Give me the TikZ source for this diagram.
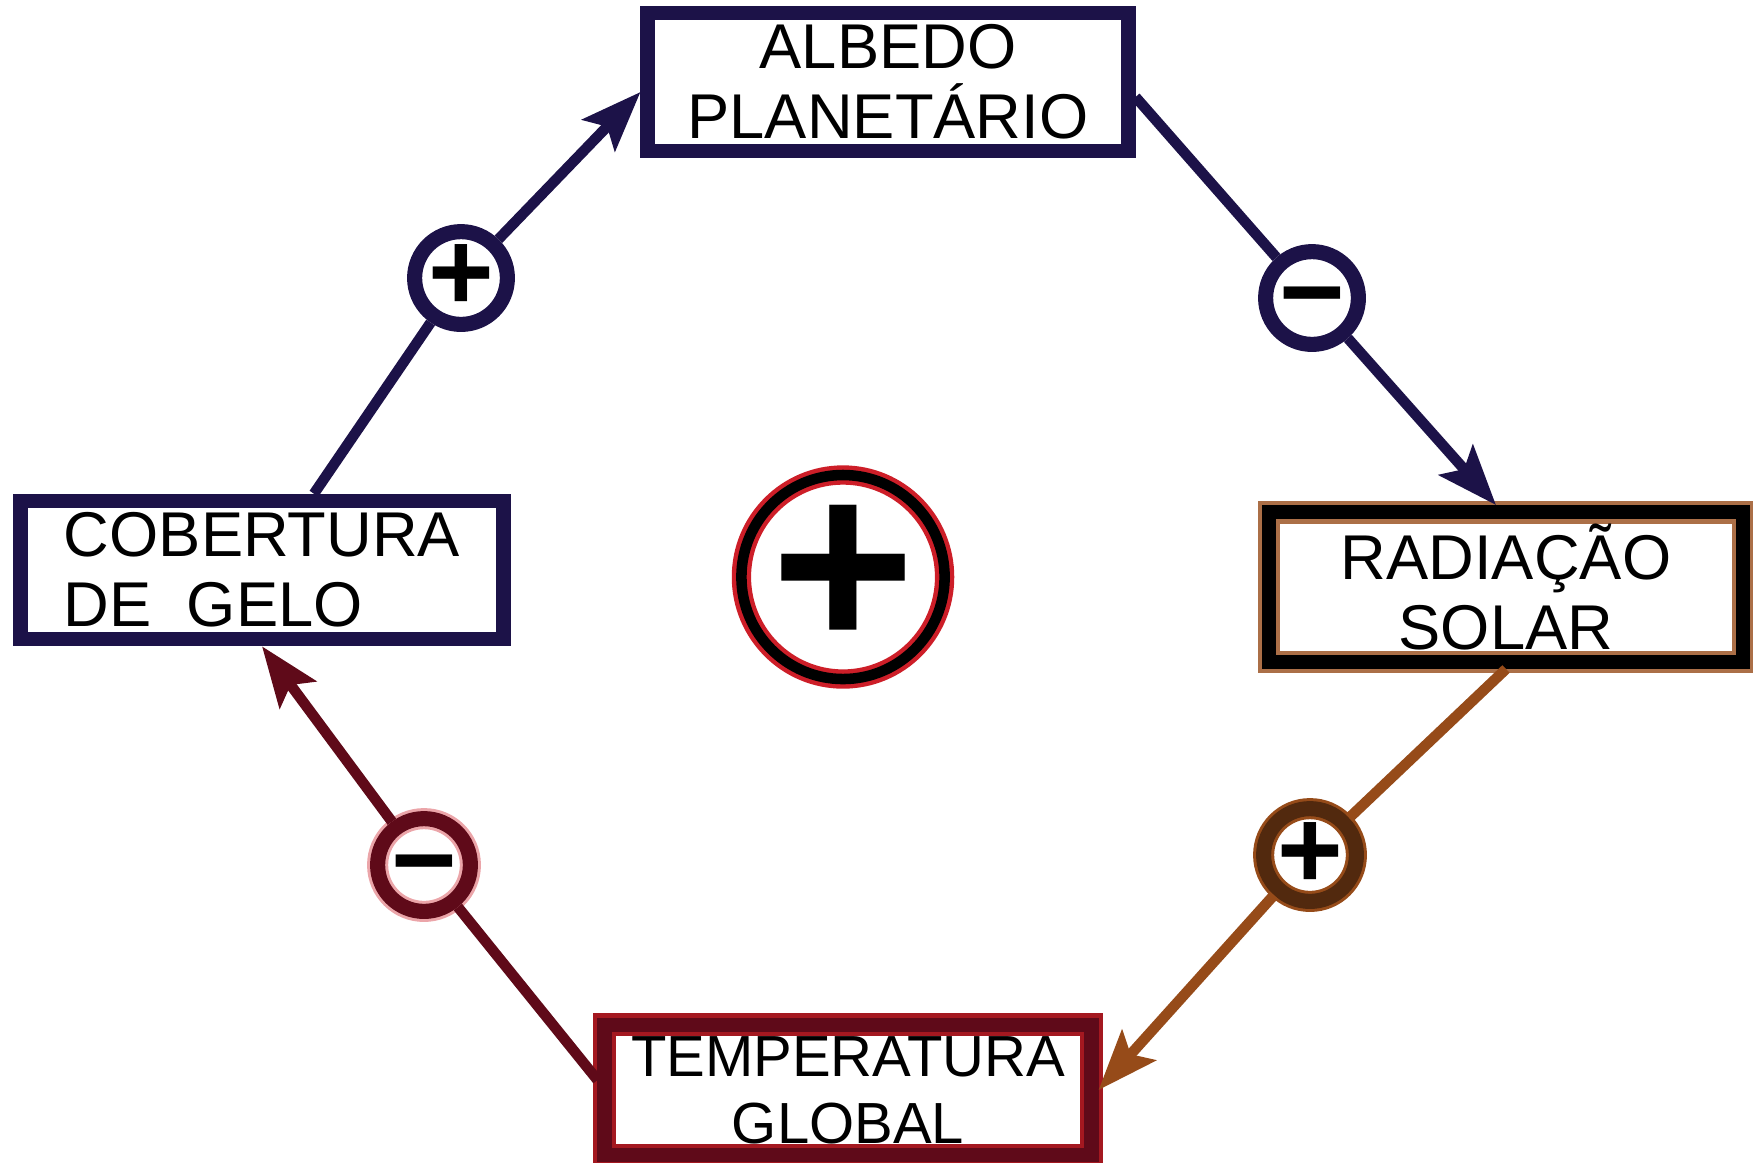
\documentclass[tikz,border=0pt]{standalone}
\usepackage{fontspec}
\setmainfont{Liberation Sans}
\usetikzlibrary{arrows.meta,shapes.geometric}

\definecolor{inkblue}{RGB}{28,18,72}
\definecolor{inkbrown}{RGB}{150,75,25}
\definecolor{inkred}{RGB}{95,10,25}
\definecolor{halored}{RGB}{205,30,40}

\newcommand{\minussign}{\makebox[0pt][l]{−}\phantom{+}}

\begin{document}
\begin{tikzpicture}[
    box/.style={rectangle, draw, line width=4pt, font=\fontsize{18}{20}\selectfont, align=center},
    sign/.style={circle, draw, line width=4.3pt, minimum size=0.86cm, inner sep=0pt, font=\fontsize{32}{32}\selectfont\bfseries},
    link/.style={line width=3pt, -{Stealth[length=0.6cm,width=0.45cm,inset=0.12cm]}},
    plain/.style={line width=3pt}]
    \useasboundingbox (0,0) rectangle (17.53,-11.62);

    \node[box, draw=inkblue, minimum width=4.81cm, minimum height=1.22cm] (albedo) at (8.88,-0.82) {ALBEDO\\PLANETÁRIO};
    \node[box, draw=inkblue, minimum width=4.83cm, minimum height=1.32cm, align=left] (cobertura) at (2.62,-5.70) {COBERTURA\\DE\ \ GELO};
    \node[box, draw=black, preaction={draw=inkbrown!80, line width=6.5pt}, minimum width=4.74cm, minimum height=1.13cm] (radiacao) at (15.06,-5.87) {RADIAÇÃO\\SOLAR};
    \node[box, draw=inkred, preaction={draw=halored!80!black, line width=6.5pt}, minimum width=4.87cm, minimum height=1.20cm, font=\fontsize{16.5}{19}\selectfont] (temperatura) at (8.48,-10.90) {TEMPERATURA\\GLOBAL};

    \node[ellipse, draw=black, line width=3pt, preaction={draw=halored, line width=5.5pt}, minimum width=2.0cm, minimum height=1.66cm, inner sep=0pt, font=\fontsize{70}{70}\selectfont\bfseries] (loop) at (8.43,-5.77) {+};

    \node[sign, draw=inkblue] (plus1) at (4.61,-2.78) {+};
    \node[sign, draw=inkblue] (minus1) at (13.12,-2.98) {\minussign};
    \node[sign, draw=inkbrown!55!black, preaction={draw=inkbrown, line width=6pt}] (plus2) at (13.10,-8.55) {+};
    \node[sign, draw=inkred, preaction={draw=halored!40, line width=6pt}] (minus2) at (4.24,-8.65) {\minussign};

    \draw[plain, inkblue] (cobertura) -- (plus1);
    \draw[link, inkblue] (plus1) -- ([yshift=-1mm]albedo.west);
    \draw[plain, inkblue] ([yshift=-1.5mm]albedo.east) -- (minus1);
    \draw[link, inkblue] (minus1) -- ([xshift=-1mm]radiacao.north);
    \draw[plain, inkbrown] (radiacao.south) -- (plus2);
    \draw[link, inkbrown] (plus2) -- (temperatura.east);
    \draw[plain, inkred] ([yshift=1mm]temperatura.west) -- (minus2);
    \draw[link, inkred] (minus2) -- (cobertura.south);
\end{tikzpicture}
\end{document}
